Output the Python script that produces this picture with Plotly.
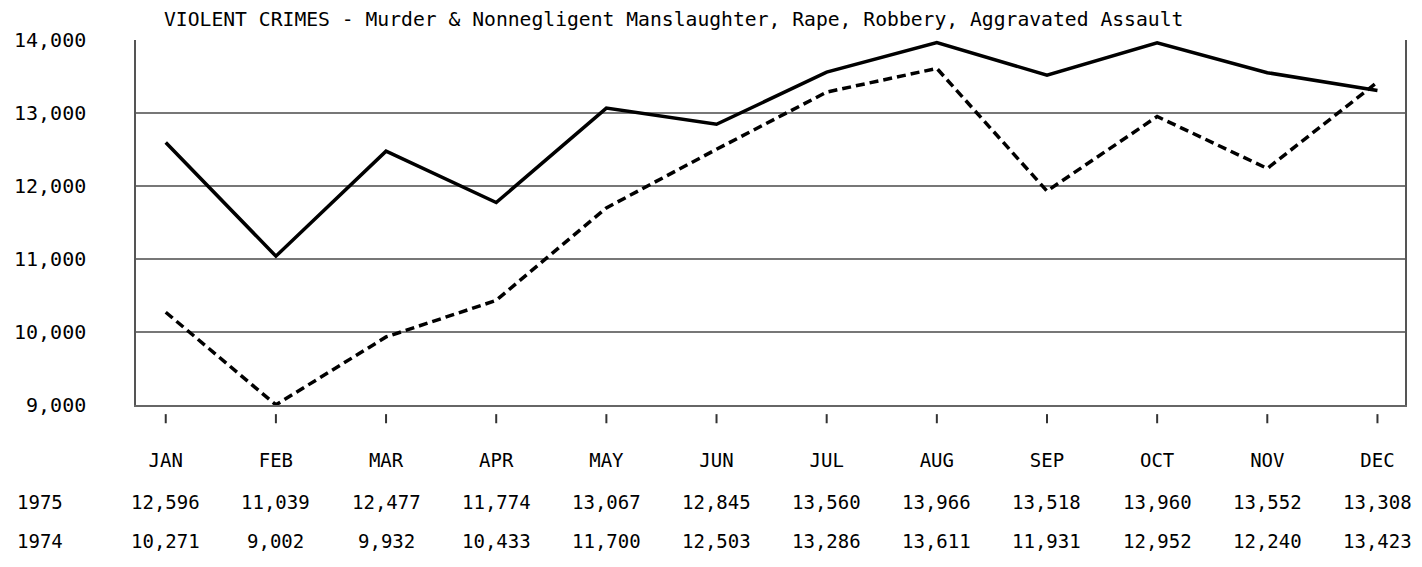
import plotly.graph_objects as go

months = ["JAN", "FEB", "MAR", "APR", "MAY", "JUN", "JUL", "AUG", "SEP", "OCT", "NOV", "DEC"]
crimes_1975 = [12596, 11039, 12477, 11774, 13067, 12845, 13560, 13966, 13518, 13960, 13552, 13308]
crimes_1974 = [10271, 9002, 9932, 10433, 11700, 12503, 13286, 13611, 11931, 12952, 12240, 13423]
y_ticks = [9000, 10000, 11000, 12000, 13000, 14000]
title = "VIOLENT CRIMES - Murder & Nonnegligent Manslaughter, Rape, Robbery, Aggravated Assault"

font_name = "DejaVu Sans Mono"
idx = list(range(len(months)))

fig = go.Figure()
fig.add_trace(go.Scatter(x=idx, y=crimes_1975, mode="lines", name="1975",
                         line=dict(color="#000000", width=3.5)))
fig.add_trace(go.Scatter(x=idx, y=crimes_1974, mode="lines", name="1974",
                         line=dict(color="#000000", width=3.5, dash="9px,5px")))

# small tick marks under the plot box
for i in idx:
    fig.add_shape(type="line", xref="x", yref="paper", x0=i, x1=i, y0=-0.025, y1=-0.05,
                  line=dict(color="#333333", width=2))

# data table under the chart
rows = [("1975", crimes_1975, -0.266), ("1974", crimes_1974, -0.373)]
for year, vals, yy in rows:
    fig.add_annotation(x=-0.0757, y=yy, xref="paper", yref="paper", text=year, showarrow=False,
                       xanchor="center", yanchor="middle", font=dict(size=19, color="#000"))
    for i, v in zip(idx, vals):
        fig.add_annotation(x=i, y=yy, xref="x", yref="paper", text=f"{v:,}", showarrow=False,
                           xanchor="center", yanchor="middle", font=dict(size=19, color="#000"))

fig.add_annotation(x=0.0205, y=1.055, xref="paper", yref="paper", text=title, showarrow=False,
                   xanchor="left", yanchor="middle", font=dict(size=19.7, color="#000"))

# the page body adds an 8px offset, so margins are trimmed by that much on the top/left
fig.update_layout(
    width=1422, height=567,
    margin=dict(l=128, r=25, t=32, b=170, autoexpand=False),
    paper_bgcolor="white", plot_bgcolor="white",
    showlegend=False,
    font=dict(family=font_name, size=19, color="#000000"),
)
fig.update_xaxes(
    range=[-0.27, 11.25], tickvals=idx, ticktext=months, automargin=False,
    showgrid=False, zeroline=False, showline=True, linecolor="#666666", linewidth=2,
    ticks="", ticklabelstandoff=37, tickfont=dict(size=19),
)
fig.update_yaxes(
    range=[9000, 14000], tickvals=y_ticks, tickformat=",", automargin=False,
    showgrid=True, gridcolor="#777777", gridwidth=2, zeroline=False,
    showline=True, mirror=True, linecolor="#555555", linewidth=1.5,
    ticks="", ticklabelstandoff=44, tickfont=dict(size=20),
)

fig.write_html("out.html")
